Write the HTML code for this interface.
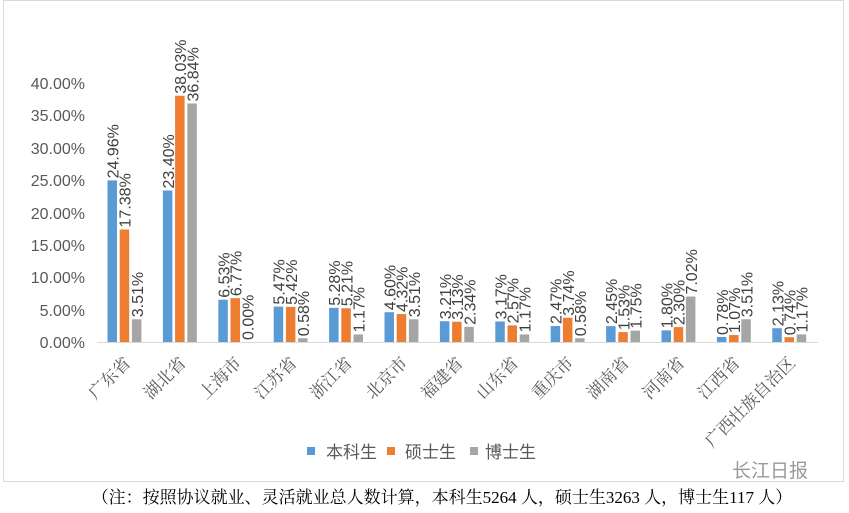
<!DOCTYPE html>
<html><head><meta charset="utf-8"><style>
html,body{margin:0;padding:0;background:#fff;}
svg{display:block;}
</style></head><body>
<svg width="849" height="513" xmlns="http://www.w3.org/2000/svg" font-family="'Liberation Sans','Noto Sans CJK SC',sans-serif">
<rect x="3.5" y="0.5" width="840" height="481" fill="#fff" stroke="#d9d9d9"/>
<g font-size="16" fill="#595959" text-anchor="end">
<text x="85" y="348">0.00%</text>
<text x="85" y="316">5.00%</text>
<text x="85" y="283">10.00%</text>
<text x="85" y="251">15.00%</text>
<text x="85" y="219">20.00%</text>
<text x="85" y="186">25.00%</text>
<text x="85" y="154">30.00%</text>
<text x="85" y="121">35.00%</text>
<text x="85" y="89">40.00%</text>
</g>
<line x1="97" y1="342.5" x2="818" y2="342.5" stroke="#d9d9d9"/>
<g id="bars"></g>
<g font-size="17" fill="#595959">
<rect x="307" y="447" width="8" height="8" fill="#5b9bd5"/><text x="326" y="458">本科生</text>
<rect x="387" y="447" width="8" height="8" fill="#ed7d31"/><text x="405" y="458">硕士生</text>
<rect x="470" y="447" width="8" height="8" fill="#a5a5a5"/><text x="485" y="458">博士生</text>
</g>
<text x="770" y="477" font-size="19" fill="#999" text-anchor="middle">长江日报</text>
<text x="442" y="503" font-size="17" fill="#000" text-anchor="middle" font-family="'Liberation Serif','Noto Serif CJK SC',serif">（注：按照协议就业、灵活就业总人数计算，本科生5264 人，硕士生3263 人，博士生117 人）</text>
</svg>
<script>
var d=[["广东省",24.96,17.38,3.51],["湖北省",23.40,38.03,36.84],["上海市",6.53,6.77,0.00],["江苏省",5.47,5.42,0.58],["浙江省",5.28,5.21,1.17],["北京市",4.60,4.32,3.51],["福建省",3.21,3.13,2.34],["山东省",3.17,2.57,1.17],["重庆市",2.47,3.74,0.58],["湖南省",2.45,1.53,1.75],["河南省",1.80,2.30,7.02],["江西省",0.78,1.07,3.51],["广西壮族自治区",2.13,0.74,1.17]];
var c=["#5b9bd5","#ed7d31","#a5a5a5"],s="";
d.forEach(function(r,i){var x0=107.5+i*55.4;
for(var k=0;k<3;k++){var x=x0+k*12.2,h=r[k+1]*6.475,y=342-h;
s+='<rect x="'+x+'" y="'+y+'" width="9.5" height="'+h+'" fill="'+c[k]+'"/>';
var tx=x+11,ty=y-2;
s+='<text font-size="16" fill="#404040" transform="translate('+tx+','+ty+') rotate(-90)">'+r[k+1].toFixed(2)+'%</text>';}
var cx=x0+16;
s+='<text font-size="17" fill="#595959" text-anchor="end" font-family="\'Liberation Serif\',\'Noto Serif CJK SC\',serif" transform="translate('+(cx+8)+',364) rotate(-45)">'+r[0]+'</text>';});
document.getElementById("bars").innerHTML=s;
</script>
</body></html>
